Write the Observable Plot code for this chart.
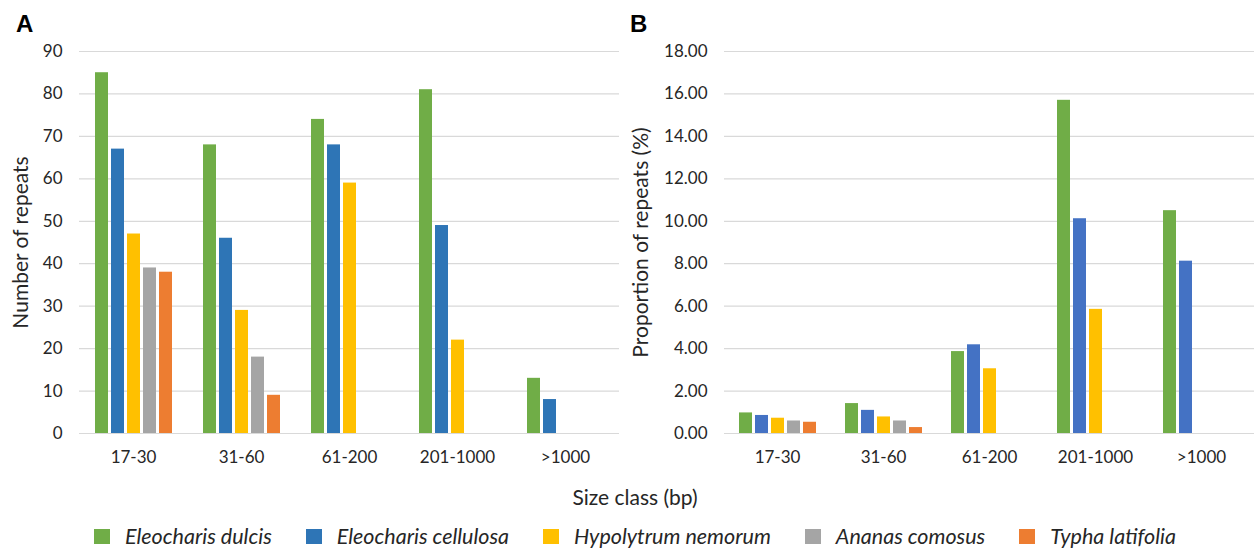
<!DOCTYPE html>
<html>
<head>
<meta charset="utf-8">
<script src="https://cdn.jsdelivr.net/npm/d3@7"></script>
<script src="https://cdn.jsdelivr.net/npm/@observablehq/plot@0.6"></script>
<style>
  body { margin: 0; background: #fff; }
  #fig { position: relative; width: 1258px; height: 551px; font-family: Lato, "Open Sans", sans-serif; color: #262626; overflow: hidden; }
  #panels { position: absolute; left: 0; top: 0; display: flex; }
  #panels svg g[aria-label="y-axis label"] { font-size: 21px; }
  .tag { position: absolute; top: 12px; font: bold 24px "Liberation Sans", Arial, sans-serif; line-height: 24px; color: #000; }
  #xtitle { position: absolute; left: 6px; width: 1258px; top: 484px; text-align: center; font-size: 21px; line-height: 25px; }
  #legend { position: absolute; left: 6px; width: 1258px; top: 523px; display: flex; justify-content: center; align-items: center; gap: 34px; }
  .item { display: flex; align-items: center; gap: 15px; font-size: 21.5px; font-style: italic; line-height: 26px; }
  .sw { width: 16px; height: 15px; display: inline-block; }
</style>
</head>
<body>
<div id="fig">
  <div id="panels"></div>
  <div class="tag" style="left:16px">A</div>
  <div class="tag" style="left:630px">B</div>
  <div id="xtitle">Size class (bp)</div>
  <div id="legend"></div>
</div>
<script>
// ---- data ----
const sizeClasses = ["17-30", "31-60", "61-200", "201-1000", ">1000"];
const species = ["Eleocharis dulcis", "Eleocharis cellulosa", "Hypolytrum nemorum", "Ananas comosus", "Typha latifolia"];
const colorsA = ["#70AD47", "#2E75B6", "#FFC000", "#A5A5A5", "#ED7D31"];
const colorsB = ["#70AD47", "#4472C4", "#FFC000", "#A5A5A5", "#ED7D31"];

// Panel A: number of repeats per size class
const countDulcis     = [85, 68, 74, 81, 13];
const countCellulosa  = [67, 46, 68, 49, 8];
const countHypolytrum = [47, 29, 59, 22, null];
const countAnanas     = [39, 18, null, null, null];
const countTypha      = [38, 9, null, null, null];

// Panel B: proportion of repeats (%) per size class
const propDulcis     = [0.97, 1.41, 3.86, 15.70, 10.50];
const propCellulosa  = [0.85, 1.09, 4.18, 10.12, 8.12];
const propHypolytrum = [0.72, 0.78, 3.05, 5.85, null];
const propAnanas     = [0.59, 0.59, null, null, null];
const propTypha      = [0.53, 0.28, null, null, null];

const yTicksA = [0, 10, 20, 30, 40, 50, 60, 70, 80, 90];
const yTicksB = [0, 2, 4, 6, 8, 10, 12, 14, 16, 18];

// ---- build tidy tables ----
function tidy(seriesList) {
  const rows = [];
  seriesList.forEach((vals, si) => {
    vals.forEach((v, ci) => {
      if (v != null) rows.push({size: sizeClasses[ci], species: species[si], value: v});
    });
  });
  return rows;
}
const dataA = tidy([countDulcis, countCellulosa, countHypolytrum, countAnanas, countTypha]);
const dataB = tidy([propDulcis, propCellulosa, propHypolytrum, propAnanas, propTypha]);

function panel({data, ticks, fmt, label, width, marginLeft, marginRight, colors, labelOffset}) {
  return Plot.plot({
    width, height: 475,
    marginLeft, marginRight, marginTop: 51, marginBottom: 42,
    style: {fontFamily: "Lato, 'Open Sans', sans-serif", fontSize: "17px", color: "#262626", background: "transparent"},
    fx: {domain: sizeClasses, padding: 0, axis: "bottom", label: null, tickSize: 0, tickPadding: 17},
    x: {domain: species, axis: null, paddingInner: 0.2, paddingOuter: 0.88},
    y: {domain: [ticks[0], ticks[ticks.length - 1]], axis: null},
    color: {domain: species, range: colors},
    marks: [
      Plot.gridY(ticks, {stroke: "#d9d9d9", strokeOpacity: 1, strokeWidth: 1.2}),
      Plot.axisY(ticks, {tickSize: 0, tickPadding: 17, tickFormat: fmt, label, labelAnchor: "center", labelOffset, labelArrow: "none"}),
      Plot.barY(data, {fx: "size", x: "species", y: "value", fill: "species"})
    ]
  });
}

const panels = document.getElementById("panels");
panels.append(panel({data: dataA, ticks: yTicksA, fmt: d3.format("d"), label: "Number of repeats",
  width: 625, marginLeft: 77, marginRight: 4, colors: colorsA, labelOffset: 66}));
panels.append(panel({data: dataB, ticks: yTicksB, fmt: d3.format(".2f"), label: "Proportion of repeats (%)",
  width: 633, marginLeft: 98, marginRight: 3, colors: colorsB, labelOffset: 91}));

const legend = document.getElementById("legend");
species.forEach((s, i) => {
  const item = document.createElement("div");
  item.className = "item";
  const sw = document.createElement("span");
  sw.className = "sw";
  sw.style.background = colorsA[i];
  const t = document.createElement("span");
  t.textContent = s;
  item.append(sw, t);
  legend.append(item);
});
</script>
</body>
</html>
